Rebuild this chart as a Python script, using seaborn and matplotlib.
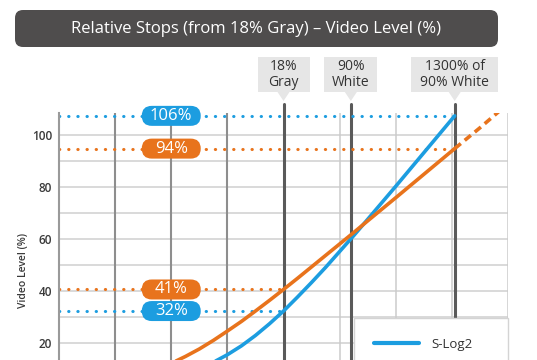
# Imports
import numpy as np
import pandas as pd
import matplotlib.pyplot as plt
from matplotlib.patches import FancyBboxPatch, Rectangle, Polygon
import seaborn as sns

# Chart Data (relative stops from 18% gray -> video level in %)
slog2_stops = [-4, -3.5, -3, -2.5, -2, -1.5, -1, -0.5, 0, 0.5, 1, 1.5, 2, 2.5, 3, 4, 5, 6.1]
slog2_level = [7.0, 8.4, 10.3, 12.6, 15.5, 18.9, 22.9, 27.4, 32.3, 37.7, 43.3, 49.1, 55.2, 61.3, 67.6, 80.3, 93.2, 107.4]

slog3_stops = [-4, -3.5, -3, -2.5, -2, -1.5, -1, -0.5, 0, 0.5, 1, 1.5, 2, 2.5, 3, 4, 5, 6.1]
slog3_level = [12.2, 14.8, 17.7, 21.0, 24.6, 28.3, 32.3, 36.4, 40.6, 44.9, 49.3, 53.7, 58.1, 62.5, 67.0, 75.9, 84.9, 94.8]

slog3_ext_stops = [6.1, 7.0, 7.7]
slog3_ext_level = [94.8, 102.8, 109.3]

# Reference levels shown as dotted lines with labels
ref_levels = [107.4, 94.8, 40.6, 32.3]
ref_labels = ["106%", "94%", "41%", "32%"]
ref_ends = [6.1, 6.1, 0, 0]
ref_series = ["S-Log2", "S-Log3", "S-Log3", "S-Log2"]

# Marked exposure points
marker_stops = [0, 2.4, 6.1]
marker_labels = ["18%\nGray", "90%\nWhite", "1300% of\n90% White"]

grid_stops = [-6, -4, -2]
light_stops = [2, 4, 6, 8]
y_ticks = [20, 40, 60, 80, 100]

BLUE = "#1c9de0"
ORANGE = "#e8731c"
colors = {"S-Log2": BLUE, "S-Log3": ORANGE}

# Style
sns.set_style("white")
plt.rcParams["font.family"] = ["Open Sans", "DejaVu Sans"]

W, H = 537, 360
fig = plt.figure(figsize = (W / 100, H / 100), dpi = 100)
axLeft, axRight, axTop, axBottom = 59, 508, 113, 395
ax = fig.add_axes([axLeft / W, (H - axBottom) / H, (axRight - axLeft) / W, (axBottom - axTop) / H])
xMin, xMax, yMin, yMax = -8, 8, 0, 108.5
ax.set_xlim(xMin, xMax)
ax.set_ylim(yMin, yMax)

# Pixel aspect between x and y data units (for round shapes)
pxPerX = (axRight - axLeft) / (xMax - xMin)
pxPerY = (axBottom - axTop) / (yMax - yMin)
aspect = pxPerX / pxPerY

# Grid
ax.set_yticks(y_ticks)
ax.set_xticks([])
ax.grid(False)
for lvl in np.arange(10, 101, 10):
    ax.axhline(lvl, color = "#cfcfcf", lw = 1.1, zorder = 0.5)
for s in light_stops:
    ax.axvline(s, color = "#cbcbcb", lw = 1.1, zorder = 0.6)
for s in grid_stops:
    ax.axvline(s, color = "#8e8e8e", lw = 1.5, zorder = 0.7)
for s in marker_stops:
    ax.axvline(s, ymax = (axBottom - 104) / (axBottom - axTop), color = "#5a5a5a", lw = 2.2, zorder = 1.5, clip_on = False)

for side in ["top", "right", "bottom"]:
    ax.spines[side].set_visible(False)
ax.spines["left"].set_color("#9a9a9a")
ax.spines["left"].set_linewidth(1.5)
ax.tick_params(axis = "y", which = "both", length = 0, pad = 5, labelsize = 8.5, labelcolor = "#3a3a3a")
for lbl in ax.get_yticklabels():
    lbl.set_fontweight("semibold")
ax.set_ylabel("Video Level (%)", fontsize = 7.5, color = "#3a3a3a", fontweight = "semibold")
ax.yaxis.set_label_coords((29 - axLeft) / (axRight - axLeft), (axBottom - 270) / (axBottom - axTop))

# Dotted reference lines
for lvl, end, name in zip(ref_levels, ref_ends, ref_series):
    ax.plot([xMin, end], [lvl, lvl], color = colors[name], lw = 2.2, linestyle = (0, (0.1, 2.9)),
            dash_capstyle = "round", zorder = 2, clip_on = False)

# Curves
df2 = pd.DataFrame({"stop": slog2_stops, "level": slog2_level})
df3 = pd.DataFrame({"stop": slog3_stops, "level": slog3_level})
dfExt = pd.DataFrame({"stop": slog3_ext_stops, "level": slog3_ext_level})
sns.lineplot(data = df2, x = "stop", y = "level", color = BLUE, lw = 2.6, label = "S-Log2", ax = ax, zorder = 3)
sns.lineplot(data = df3, x = "stop", y = "level", color = ORANGE, lw = 2.6, ax = ax, zorder = 3, legend = False)
sns.lineplot(data = dfExt, x = "stop", y = "level", color = ORANGE, lw = 2.6, linestyle = (0, (2.2, 1.4)),
             ax = ax, zorder = 3, legend = False)
ax.set_xlabel("")

# Pill labels on reference lines
pillW, pillH = 59 / pxPerX, 20 / pxPerY
for lvl, text, name in zip(ref_levels, ref_labels, ref_series):
    pill = FancyBboxPatch((-4 - pillW / 2, lvl - pillH / 2), pillW, pillH,
                          boxstyle = f"round,pad=0,rounding_size={pillW * 0.17:.3f}",
                          mutation_aspect = aspect, fc = colors[name], ec = "none", zorder = 4, clip_on = False)
    ax.add_patch(pill)
    ax.text(-4, lvl, text, color = "white", fontsize = 12, ha = "center", va = "center", zorder = 5)

# Callout boxes above the marked stops
xform = ax.get_xaxis_transform()
boxWidths = [52, 53, 87]
boxBottom = (axBottom - 92) / (axBottom - axTop)
boxHeight = 35 / (axBottom - axTop)
tipY = (axBottom - 101) / (axBottom - axTop)
for s, label, wpx in zip(marker_stops, marker_labels, boxWidths):
    bw = wpx / pxPerX
    ax.add_patch(Rectangle((s - bw / 2, boxBottom), bw, boxHeight, transform = xform,
                           fc = "#e6e6e6", ec = "none", clip_on = False))
    tw = 6 / pxPerX
    ax.add_patch(Polygon([(s - tw, boxBottom), (s + tw, boxBottom), (s, tipY)], closed = True,
                         transform = xform, fc = "#e6e6e6", ec = "none", clip_on = False))
    ax.text(s, boxBottom + boxHeight / 2, label, transform = xform, ha = "center", va = "center",
            fontsize = 10, color = "#333333", linespacing = 1.05)

# Legend (bottom part is cut off by the image edge)
legLeft = (354 - axLeft) / (axRight - axLeft)
legTop = (axBottom - 318) / (axBottom - axTop)
leg = ax.legend(loc = "upper left", bbox_to_anchor = (legLeft, 0, 1 - legLeft, legTop), mode = "expand",
                borderaxespad = 0, frameon = True, fancybox = False, fontsize = 9.5, handlelength = 3.4,
                handletextpad = 1.0, borderpad = 1.5, labelcolor = "#333333")
leg.get_frame().set_edgecolor("#d4d4d4")
leg.get_frame().set_linewidth(1.0)
leg.get_frame().set_alpha(1)
for line in leg.get_lines():
    line.set_linewidth(3)

# Title bar
title = FancyBboxPatch((15 / W, 1 - 47 / H), 483 / W, 37 / H, boxstyle = f"round,pad=0,rounding_size={8 / W:.4f}",
                       mutation_aspect = W / H, transform = fig.transFigure, fc = "#4f4d4d", ec = "none")
fig.add_artist(title)
fig.text(256 / W, 1 - 29 / H, "Relative Stops (from 18% Gray) \u2013 Video Level (%)", color = "white",
         fontsize = 12, ha = "center", va = "center")

# Save the Graph
fig.savefig("out.png", dpi = 100)
plt.close(fig)
